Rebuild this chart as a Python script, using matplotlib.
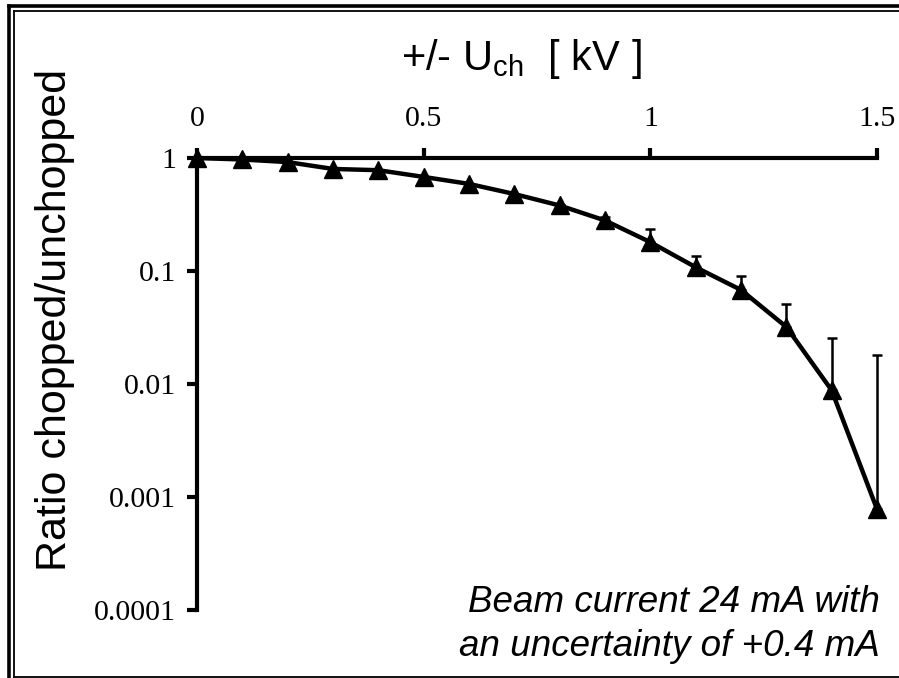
import matplotlib
matplotlib.use("Agg")
import matplotlib.pyplot as plt
from matplotlib.lines import Line2D

plt.rcParams['font.family'] = 'Liberation Sans'
plt.rcParams['mathtext.fontset'] = 'custom'
plt.rcParams['mathtext.rm'] = 'Liberation Sans'

# chopping voltage and measured current ratio
u_ch = [0.0, 0.1, 0.2, 0.3, 0.4, 0.5, 0.6, 0.7, 0.8, 0.9, 1.0, 1.1, 1.2, 1.3, 1.4, 1.5]
ratio = [1.0, 0.97, 0.92, 0.80, 0.78, 0.68, 0.59, 0.48, 0.38, 0.28, 0.18,
         0.108, 0.068, 0.032, 0.0088, 0.00078]
# upper end of the error bars
ratio_hi = [1.0, 0.97, 0.92, 0.80, 0.78, 0.68, 0.59, 0.48, 0.38, 0.30, 0.235,
            0.136, 0.09, 0.051, 0.0256, 0.018]

x_ticks = [0, 0.5, 1, 1.5]
x_labels = ["0", "0.5", "1", "1.5"]
y_ticks = [1, 0.1, 0.01, 0.001, 0.0001]
y_labels = ["1", "0.1", "0.01", "0.001", "0.0001"]

W, H = 899, 678
fig = plt.figure(figsize=(W / 100, H / 100), dpi=100)
ax = fig.add_axes([197 / W, (H - 610) / H, 680 / W, 452 / H])

err_up = [h - r for r, h in zip(ratio, ratio_hi)]
err_dn = [0] * len(ratio)
ax.errorbar(u_ch, ratio, yerr=[err_dn, err_up], fmt='none', ecolor='black',
            elinewidth=1.8, capsize=3.5, capthick=1.8, clip_on=False, zorder=3)
ax.plot(u_ch, ratio, color='black', lw=3.2, marker='^', ms=13.5,
        clip_on=False, zorder=4)

ax.set_yscale('log')
ax.set_xlim(0, 1.5)
ax.set_ylim(1e-4, 1)
ax.minorticks_off()

ax.xaxis.tick_top()
ax.set_xticks(x_ticks, x_labels)
ax.set_yticks(y_ticks, y_labels)
for s in ['right', 'bottom']:
    ax.spines[s].set_visible(False)
for s in ['left', 'top']:
    ax.spines[s].set_linewidth(3)
ax.tick_params(axis='both', length=7, width=3, direction='out', color='black')
ax.tick_params(axis='x', pad=12)
ax.tick_params(axis='y', pad=8)
for lab in ax.get_xticklabels() + ax.get_yticklabels():
    lab.set_fontfamily('Liberation Serif')
    lab.set_fontsize(21.5)

fig.text(521 / W, 1 - 70 / H, r'+/- U$_\mathregular{ch}$  [ kV ]',
         fontsize=30, ha='center', va='baseline')
fig.text(55 / W, 1 - 320 / H, 'Ratio chopped/unchopped', fontsize=31,
         rotation=90, ha='center', va='center')
fig.text(880 / W, 1 - 612 / H, 'Beam current 24 mA with', fontsize=26.5,
         style='italic', ha='right', va='baseline')
fig.text(880 / W, 1 - 656 / H, 'an uncertainty of +0.4 mA', fontsize=26.5,
         style='italic', ha='right', va='baseline')

# double frame round the figure
def frame_line(xs, ys, lw):
    fig.add_artist(Line2D([x / W for x in xs], [1 - y / H for y in ys],
                          color='black', lw=lw, transform=fig.transFigure))

frame_line([9, 9], [6, H + 5], 2.6)
frame_line([9, W + 5], [6, 6], 2.6)
frame_line([13.5, 13.5], [11, 676.5], 1.3)
frame_line([13.5, W + 5], [11, 11], 1.3)
frame_line([13.5, W + 5], [676.5, 676.5], 1.3)

fig.savefig('out.png', dpi=100)
